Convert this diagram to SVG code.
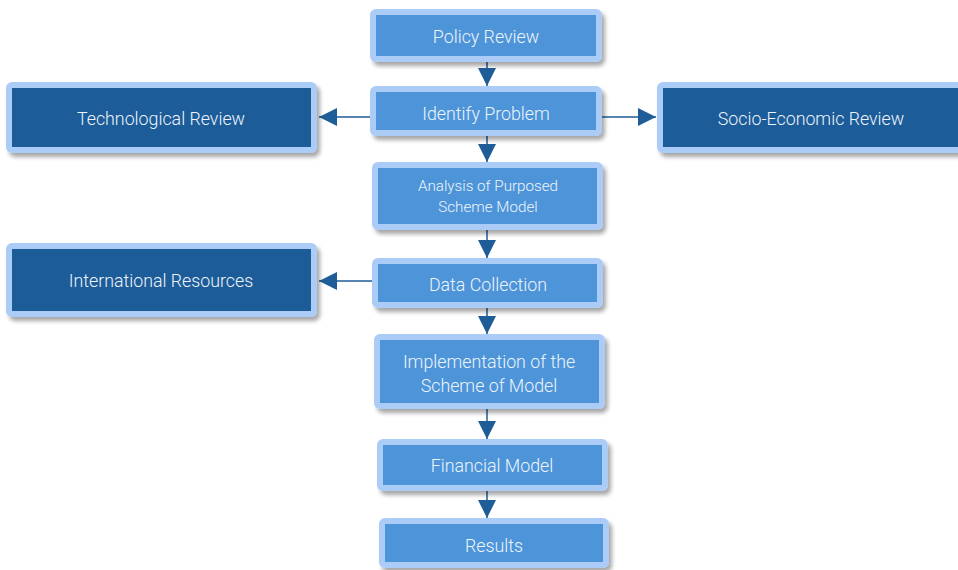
<svg xmlns="http://www.w3.org/2000/svg" width="958" height="570" viewBox="0 0 958 570">
<defs>
<filter id="sh" x="-10%" y="-20%" width="125%" height="150%">
<feGaussianBlur in="SourceAlpha" stdDeviation="2"/>
<feOffset dx="3" dy="4" result="o"/>
<feComponentTransfer><feFuncA type="linear" slope="0.35"/></feComponentTransfer>
<feMerge><feMergeNode/><feMergeNode in="SourceGraphic"/></feMerge>
</filter>
<style>
.l{fill:#4e94d9;stroke:#acccf8;stroke-width:6;filter:url(#sh)}
.d{fill:#1f5c99;stroke:#acccf8;stroke-width:6;filter:url(#sh)}
text{font-family:Roboto,"Liberation Sans",sans-serif;font-weight:300;fill:#eef4fb;text-anchor:middle;dominant-baseline:central}
.t{font-size:17.8px}
.s{font-size:15.2px}
.c{stroke:#1f5d99;stroke-width:1.5;fill:none;marker-end:url(#ah2)}
</style>
<marker id="ah2" markerWidth="18" markerHeight="18" refX="16" refY="8" orient="auto" markerUnits="userSpaceOnUse" viewBox="0 0 16 16">
<path d="M0,0 L16,8 L0,16 Z" fill="#1f5d99"/>
</marker>
</defs>
<g id="connectors">
<line class="c" x1="487" y1="62" x2="487" y2="86"/>
<line class="c" x1="487" y1="136" x2="487" y2="162"/>
<line class="c" x1="487" y1="230" x2="487" y2="258"/>
<line class="c" x1="487" y1="308" x2="487" y2="334"/>
<line class="c" x1="487" y1="409" x2="487" y2="439"/>
<line class="c" x1="487" y1="491" x2="487" y2="518"/>
<line class="c" x1="370" y1="117" x2="319" y2="117"/>
<line class="c" x1="602" y1="117" x2="656" y2="117"/>
<line class="c" x1="372" y1="281" x2="319" y2="281"/>
</g>
<g id="policy"><rect class="l" x="373" y="12" width="226" height="47" rx="3"/><text class="t" x="486" y="36">Policy Review</text></g>
<g id="identify"><rect class="l" x="373" y="89" width="226" height="44" rx="3"/><text class="t" x="486" y="113">Identify Problem</text></g>
<g id="tech"><rect class="d" x="9" y="85" width="305" height="65" rx="3"/><text class="t" x="161" y="118">Technological Review</text></g>
<g id="socio"><rect class="d" x="660" y="85" width="305" height="65" rx="3"/><text class="t" x="811" y="118">Socio-Economic Review</text></g>
<g id="analysis"><rect class="l" x="375" y="165" width="225" height="62" rx="3"/><text class="s" x="488" y="186">Analysis of Purposed</text><text class="s" x="488" y="207">Scheme Model</text></g>
<g id="data"><rect class="l" x="375" y="261" width="225" height="44" rx="3"/><text class="t" x="488" y="284">Data Collection</text></g>
<g id="intl"><rect class="d" x="9" y="246" width="305" height="68" rx="3"/><text class="t" x="161" y="280">International Resources</text></g>
<g id="impl"><rect class="l" x="377" y="337" width="225" height="69" rx="3"/><text class="t" x="489" y="361">Implementation of the</text><text class="t" x="489" y="385">Scheme of Model</text></g>
<g id="financial"><rect class="l" x="380" y="442" width="225" height="46" rx="3"/><text class="t" x="492" y="465">Financial Model</text></g>
<g id="results"><rect class="l" x="382" y="521" width="224" height="44" rx="3"/><text class="t" x="494" y="545">Results</text></g>
</svg>
